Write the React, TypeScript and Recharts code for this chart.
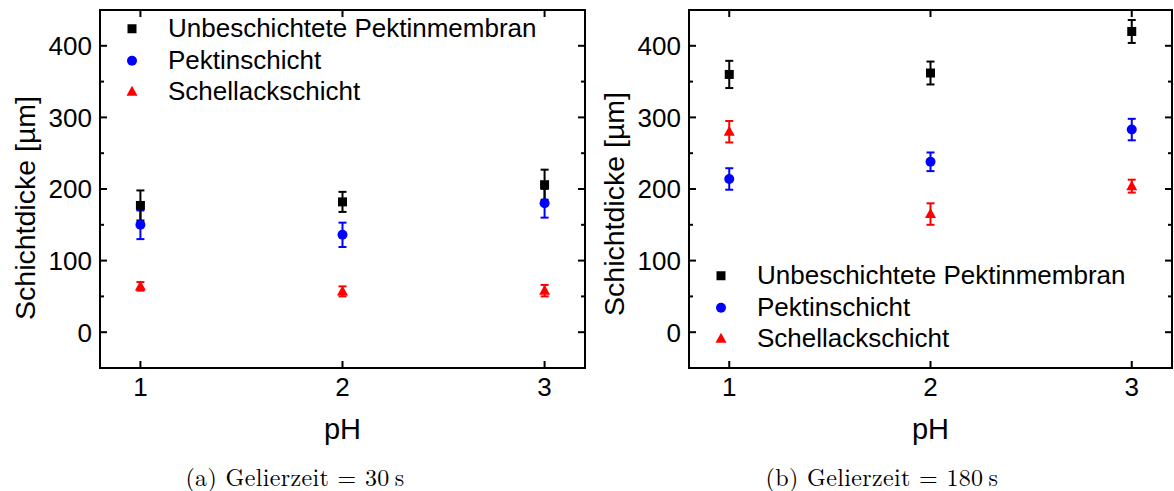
import {
  ErrorBar,
  Label,
  Legend,
  ReferenceArea,
  Scatter,
  ScatterChart,
  XAxis,
  YAxis,
} from "recharts";

// pH values on the x axis
const phValues = [1, 2, 3];

// Gelierzeit = 30 s
const unbeschichtet30 = [177, 182, 206];
const unbeschichtet30Err = [21, 14, 21];
const pektin30 = [150, 136, 180];
const pektin30Err = [20, 17, 20];
const schellack30 = [64, 57, 58];
const schellack30Err = [6, 7, 8];

// Gelierzeit = 180 s
const unbeschichtet180 = [360, 362, 420];
const unbeschichtet180Err = [19, 16, 16];
const pektin180 = [214, 238, 283];
const pektin180Err = [15, 13, 15];
const schellack180 = [280, 165, 204];
const schellack180Err = [15, 15, 9];

const xTicks = [1, 2, 3];
const yTicks = [0, 50, 100, 150, 200, 250, 300, 350, 400];
const seriesNames = ["Unbeschichtete Pektinmembran", "Pektinschicht", "Schellackschicht"];
const captions = ["(a) Gelierzeit = 30\u2009s", "(b) Gelierzeit = 180\u2009s"];
const xTitle = "pH";
const yTitle = "Schichtdicke [µm]";

const SANS = "'Liberation Sans', Arial, sans-serif";
const SERIF = "'Latin Modern Roman', 'Liberation Serif', serif";
const BLACK = "#000000";
const BLUE = "#0000ff";
const RED = "#ff0000";

const CHART_H = 452;
const TOP = 10;
const BOTTOM = 13;
const X_AXIS_H = 71;
const PLOT_H = CHART_H - TOP - BOTTOM - X_AXIS_H;
const Y_GAP = 8;
const X_GAP = 10;
const TICK_FONT = 26;

function rows(values: number[], errors: number[]) {
  return phValues.map((x, i) => ({ x, y: values[i], err: errors[i] }));
}

const Square = (p: any) => <rect x={p.cx - 4.5} y={p.cy - 4.5} width={9} height={9} fill={BLACK} />;
const Dot = (p: any) => <circle cx={p.cx} cy={p.cy} r={5} fill={BLUE} />;
const Tri = (p: any) => (
  <path d={`M${p.cx},${p.cy - 6}L${p.cx + 5.5},${p.cy + 4}L${p.cx - 5.5},${p.cy + 4}Z`} fill={RED} />
);
const shapes = [Square, Dot, Tri];
const colors = [BLACK, BLUE, RED];

function makeYTick(plotW: number) {
  return (p: any) => {
    const v = p.payload.value;
    const major = v % 100 === 0;
    const len = major ? 7 : 4;
    const ax = p.x + Y_GAP;
    return (
      <g>
        <line x1={ax} x2={ax + len} y1={p.y} y2={p.y} stroke={BLACK} strokeWidth={2} />
        <line x1={ax + plotW - len} x2={ax + plotW} y1={p.y} y2={p.y} stroke={BLACK} strokeWidth={2} />
        {major ? (
          <text x={p.x} y={p.y} dy="0.36em" textAnchor="end" fontFamily={SANS} fontSize={TICK_FONT} fill={BLACK}>
            {v}
          </text>
        ) : null}
      </g>
    );
  };
}

const XTick = (p: any) => {
  const bottom = p.y - X_GAP;
  const top = bottom - PLOT_H;
  return (
    <g>
      <line x1={p.x} x2={p.x} y1={bottom} y2={bottom - 7} stroke={BLACK} strokeWidth={2} />
      <line x1={p.x} x2={p.x} y1={top} y2={top + 7} stroke={BLACK} strokeWidth={2} />
      <text x={p.x} y={p.y} dy="0.71em" textAnchor="middle" fontFamily={SANS} fontSize={TICK_FONT} fill={BLACK}>
        {p.payload.value}
      </text>
    </g>
  );
};

function LegendBox() {
  return (
    <div style={{ fontFamily: SANS, fontSize: 26, color: BLACK }}>
      {seriesNames.map((name, i) => {
        const Shape = shapes[i];
        return (
          <div key={name} style={{ display: "flex", alignItems: "center", height: 31.5, whiteSpace: "nowrap" }}>
            <svg width={50} height={31.5}>
              <Shape cx={14} cy={15.75} />
            </svg>
            <span>{name}</span>
          </div>
        );
      })}
    </div>
  );
}

type PanelProps = {
  left: number;
  width: number;
  yAxisWidth: number;
  marginRight: number;
  series: { x: number; y: number; err: number }[][];
  legendLeft: number;
  legendTop: number;
  titleX: number;
  titleY: number;
  caption: string;
};

function Panel(props: PanelProps) {
  const plotW = props.width - props.yAxisWidth - props.marginRight;
  const order = [1, 0, 2];
  return (
    <div style={{ position: "absolute", left: props.left, top: 0, width: props.width, height: 491 }}>
      <ScatterChart
        width={props.width}
        height={CHART_H}
        margin={{ top: TOP, right: props.marginRight, bottom: BOTTOM, left: 0 }}
      >
        <XAxis
          type="number"
          dataKey="x"
          domain={[0.8, 3.2]}
          ticks={xTicks}
          interval={0}
          allowDataOverflow
          axisLine={false}
          tickLine={false}
          tickSize={0}
          tickMargin={X_GAP}
          height={X_AXIS_H}
          tick={XTick}
        >
          <Label value={xTitle} position="insideBottom" offset={0} fontFamily={SANS} fontSize={29} fill={BLACK} />
        </XAxis>
        <YAxis
          type="number"
          dataKey="y"
          domain={[-50, 450]}
          ticks={yTicks}
          interval={0}
          allowDataOverflow
          axisLine={false}
          tickLine={false}
          tickSize={0}
          tickMargin={Y_GAP}
          width={props.yAxisWidth}
          tick={makeYTick(plotW)}
        >
          <Label
            content={() => (
              <text
                x={props.titleX}
                y={props.titleY}
                transform={`rotate(-90 ${props.titleX} ${props.titleY})`}
                textAnchor="middle"
                dominantBaseline="central"
                fontFamily={SANS}
                fontSize={28.5}
                fill={BLACK}
              >
                {yTitle}
              </text>
            )}
          />
        </YAxis>
        <ReferenceArea x1={0.8} x2={3.2} y1={-50} y2={450} fill="none" stroke={BLACK} strokeWidth={2} />
        {order.map((i) => (
          <Scatter
            key={seriesNames[i]}
            name={seriesNames[i]}
            data={props.series[i]}
            dataKey="y"
            shape={shapes[i]}
            fill={colors[i]}
            isAnimationActive={false}
          >
            <ErrorBar dataKey="err" direction="y" width={4} stroke={colors[i]} strokeWidth={2} />
          </Scatter>
        ))}
        <Legend
          layout="vertical"
          align="center"
          verticalAlign="middle"
          wrapperStyle={{ left: props.legendLeft, top: props.legendTop, width: 460 }}
          content={() => <LegendBox />}
        />
      </ScatterChart>
      <div
        style={{
          position: "absolute",
          left: 0,
          width: props.width,
          top: 464,
          textAlign: "center",
          fontFamily: SERIF,
          fontSize: 24,
          letterSpacing: 0.35,
          lineHeight: "24px",
          color: BLACK,
          whiteSpace: "pre",
        }}
      >
        {props.caption}
      </div>
    </div>
  );
}

export default function App() {
  return (
    <div style={{ position: "absolute", left: 0, top: 0, width: 1174, height: 491, background: "#ffffff" }}>
      <Panel
        left={0}
        width={590}
        yAxisWidth={100}
        marginRight={5}
        series={[
          rows(unbeschichtet30, unbeschichtet30Err),
          rows(pektin30, pektin30Err),
          rows(schellack30, schellack30Err),
        ]}
        legendLeft={118}
        legendTop={13}
        titleX={25}
        titleY={208}
        caption={captions[0]}
      />
      <Panel
        left={590}
        width={584}
        yAxisWidth={99}
        marginRight={2}
        series={[
          rows(unbeschichtet180, unbeschichtet180Err),
          rows(pektin180, pektin180Err),
          rows(schellack180, schellack180Err),
        ]}
        legendLeft={117}
        legendTop={260}
        titleX={24}
        titleY={204}
        caption={captions[1]}
      />
    </div>
  );
}
